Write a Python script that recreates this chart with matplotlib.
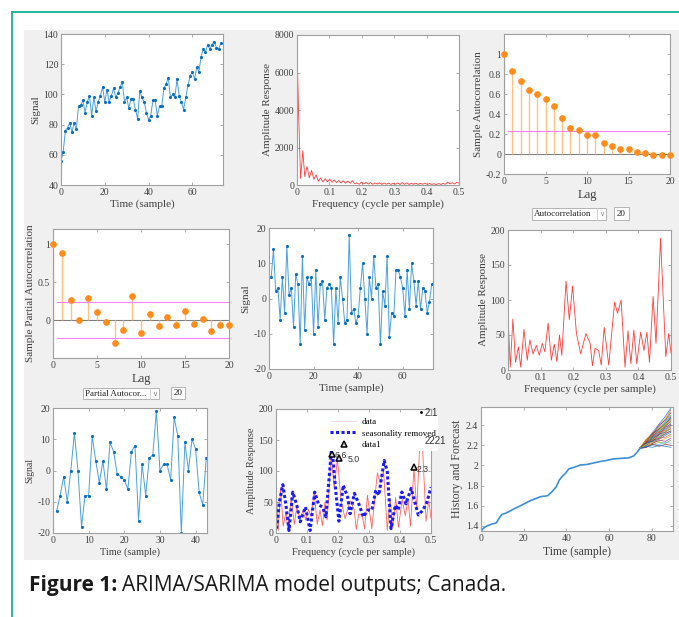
import matplotlib
matplotlib.use("Agg")
import matplotlib.pyplot as plt
from matplotlib.patches import Rectangle
from matplotlib.lines import Line2D
from matplotlib.ticker import FuncFormatter

W, H = 679, 617
plt.rcParams['font.family'] = ['Liberation Serif', 'DejaVu Serif']
plt.rcParams['font.size'] = 7

# ---- data ----
signal = [56, 62, 76, 78, 81, 75, 81, 77, 92, 93, 96, 88, 95, 99, 86, 98, 89, 95, 99, 105,
          95, 103, 95, 99, 104, 98, 101, 105, 108, 95, 98, 91, 97, 97, 90, 84, 102, 98, 95, 88,
          83, 86, 96, 96, 86, 92, 92, 104, 107, 111, 98, 100, 98, 110, 99, 95, 90, 98, 106, 112,
          115, 110, 118, 115, 125, 130, 128, 133, 130, 133, 135, 131, 130, 134]

diff_signal = [6, 14, 2, 3, -6, 6, -4, 15, 1, 3, -8, 7, 4, -13, 12, -9, 6, 4, 6, -10,
               8, -8, 4, 5, -6, 3, 4, 3, -13, 3, -7, 6, 0, -7, -6, 18, -4, -3, -7, -5,
               3, 10, 0, -10, 6, 0, 12, 3, 4, -13, 2, -2, 12, -11, -4, -5, 8, 8, 6, 3,
               -5, 8, -3, 10, 5, -2, 5, -3, 3, 2, -4, -1, 4]

seas_signal = [-13, -8, -2, -10, 0, 12, 0, -18, -8, -8, 11, 3, -4, 3, -6, 9, 6, -1, -2, -3,
               -6, 6, 8, -16, 2, -8, 4, 5, 19, 0, 2, 2, -3, 17, 11, -20, 9, 0, 10, 7,
               -7, -11, 4]

lags = list(range(21))
acf = [1, 0.83, 0.73, 0.64, 0.60, 0.55, 0.48, 0.36, 0.26, 0.24, 0.19, 0.19, 0.11, 0.08,
       0.05, 0.05, 0.02, 0.01, -0.01, -0.01, -0.01]
acf_bound = 0.23
pacf = [1, 0.88, 0.27, 0.0, 0.29, 0.10, -0.03, -0.30, -0.13, 0.32, -0.17, 0.08, -0.08,
        0.04, -0.06, 0.12, -0.05, 0.02, -0.14, -0.06, -0.07]
pacf_bound = 0.235

spec1_f = [0, 0.005, 0.011, 0.018, 0.024, 0.031, 0.038, 0.045, 0.052, 0.059, 0.066, 0.073,
           0.080, 0.087, 0.094, 0.101, 0.108, 0.115, 0.122, 0.129, 0.136, 0.143, 0.150,
           0.157, 0.164, 0.171, 0.178, 0.185, 0.192, 0.199, 0.206, 0.213, 0.220, 0.227,
           0.234, 0.241, 0.248, 0.255, 0.262, 0.269, 0.276, 0.283, 0.290, 0.297, 0.304,
           0.311, 0.318, 0.325, 0.332, 0.339, 0.346, 0.353, 0.360, 0.367, 0.374, 0.381,
           0.388, 0.395, 0.402, 0.409, 0.416, 0.423, 0.430, 0.437, 0.444, 0.451, 0.458,
           0.465, 0.472, 0.479, 0.486, 0.493, 0.500]
spec1_a = [7400, 3800, 350, 1820, 450, 980, 380, 780, 300, 540, 200, 380, 170, 340, 160, 320,
           140, 270, 130, 240, 110, 220, 100, 210, 90, 230, 70, 110, 40, 150, 60, 140, 50,
           130, 40, 110, 50, 120, 30, 110, 40, 100, 30, 90, 40, 110, 30, 120, 40, 110, 30,
           90, 40, 100, 30, 90, 40, 100, 30, 80, 30, 70, 20, 80, 30, 90, 40, 160, 60, 120,
           50, 140, 100]

spec2_f = [0, 0.007, 0.015, 0.023, 0.032, 0.039, 0.049, 0.059, 0.067, 0.077, 0.087, 0.096,
           0.105, 0.113, 0.123, 0.133, 0.142, 0.150, 0.158, 0.165, 0.178, 0.188, 0.198,
           0.210, 0.223, 0.239, 0.252, 0.259, 0.267, 0.278, 0.286, 0.295, 0.309, 0.327,
           0.336, 0.347, 0.359, 0.368, 0.377, 0.386, 0.395, 0.407, 0.417, 0.426, 0.434,
           0.445, 0.454, 0.468, 0.484, 0.493, 0.500]
spec2_a = [78, 4, 73, 11, 33, 4, 58, 14, 43, 23, 35, 21, 38, 26, 67, 14, 37, 12, 50, 21,
           127, 72, 120, 52, 23, 52, 38, 6, 31, 28, 7, 61, 7, 97, 81, 100, 4, 56, 9, 57,
           9, 54, 28, 54, 11, 105, 38, 188, 19, 52, 24]

desea_f = [0.002, 0.011, 0.022, 0.032, 0.042, 0.054, 0.067, 0.078, 0.095, 0.110, 0.125,
           0.138, 0.150, 0.161, 0.180, 0.194, 0.203, 0.217, 0.231, 0.239, 0.253, 0.267,
           0.282, 0.296, 0.309, 0.322, 0.332, 0.349, 0.359, 0.371, 0.385, 0.394, 0.406,
           0.419, 0.436, 0.445, 0.459, 0.474, 0.487, 0.500]
desea_a = [7, 50, 78, 45, 4, 66, 45, 18, 42, 4, 66, 45, 42, 26, 141, 61, 19, 77, 58, 31,
           64, 47, 26, 37, 37, 69, 61, 117, 99, 7, 45, 37, 66, 47, 72, 55, 29, 37, 50, 74]

peak_f = [0.181, 0.203, 0.445]
peak_a = [128, 121, 106]
peak_lbl = ['6.6', '5.0', '2.3']
peak_dx = [0.007, 0.027, 0.009]

hist_t = [0, 1.25, 2.8, 5.2, 7.2, 8.3, 9.8, 11.4, 13.75, 16, 18.4, 20.8, 23, 25.5, 27.8,
          31.2, 33.3, 35.3, 36.7, 38, 39.5, 41.1, 43.4, 46.6, 49.7, 52.8, 56, 59, 62, 65.3,
          69.2, 71.6, 73.1, 74.5]
hist_v = [1.35, 1.38, 1.40, 1.42, 1.43, 1.47, 1.515, 1.525, 1.55, 1.575, 1.60, 1.625,
          1.65, 1.67, 1.69, 1.70, 1.74, 1.79, 1.855, 1.89, 1.92, 1.965, 1.98, 2.005, 2.01,
          2.025, 2.04, 2.05, 2.065, 2.07, 2.075, 2.095, 2.13, 2.17]

fc_t = [74.5, 77.5, 80.5, 83.5, 86.5, 89]
fc_paths = [
    [2.17, 2.25, 2.33, 2.41, 2.49, 2.57], [2.17, 2.24, 2.30, 2.39, 2.46, 2.55],
    [2.17, 2.26, 2.32, 2.38, 2.47, 2.53], [2.17, 2.23, 2.31, 2.40, 2.45, 2.52],
    [2.17, 2.25, 2.29, 2.37, 2.44, 2.50], [2.17, 2.22, 2.30, 2.35, 2.43, 2.49],
    [2.17, 2.24, 2.32, 2.36, 2.41, 2.48], [2.17, 2.21, 2.28, 2.36, 2.42, 2.47],
    [2.17, 2.26, 2.30, 2.34, 2.40, 2.46], [2.17, 2.23, 2.27, 2.35, 2.41, 2.45],
    [2.17, 2.22, 2.29, 2.33, 2.39, 2.44], [2.17, 2.25, 2.28, 2.32, 2.40, 2.43],
    [2.17, 2.20, 2.27, 2.34, 2.37, 2.42], [2.17, 2.23, 2.26, 2.31, 2.38, 2.41],
    [2.17, 2.21, 2.28, 2.30, 2.36, 2.40], [2.17, 2.24, 2.26, 2.33, 2.35, 2.39],
    [2.17, 2.20, 2.25, 2.29, 2.34, 2.38], [2.17, 2.22, 2.24, 2.31, 2.33, 2.37],
    [2.17, 2.19, 2.26, 2.28, 2.34, 2.36], [2.17, 2.21, 2.23, 2.29, 2.31, 2.35],
    [2.17, 2.20, 2.25, 2.27, 2.32, 2.34], [2.17, 2.22, 2.24, 2.26, 2.30, 2.33],
    [2.17, 2.19, 2.22, 2.27, 2.28, 2.31], [2.17, 2.21, 2.23, 2.24, 2.27, 2.29],
    [2.17, 2.18, 2.22, 2.25, 2.24, 2.27], [2.17, 2.20, 2.21, 2.23, 2.22, 2.25],
    [2.17, 2.19, 2.20, 2.21, 2.23, 2.22], [2.17, 2.18, 2.21, 2.19, 2.21, 2.20],
    [2.17, 2.19, 2.18, 2.20, 2.19, 2.18],
]
matlab_colors = ['#0072BD', '#D95319', '#EDB120', '#7E2F8E', '#77AC30', '#4DBEEE', '#A2142F']

LINE = '#4c9fe0'
DOT = '#0b6fc0'
RED = '#ff3b3b'
ORANGE = '#ff8c1a'
STEM = '#ffc080'
MAGENTA = '#ff80ff'
TXT = '#404040'

fig = plt.figure(figsize=(W / 100, H / 100), dpi=100)
fig.patch.set_facecolor('white')


def rect(x0, y0, x1, y1):
    return [x0 / W, 1 - y1 / H, (x1 - x0) / W, (y1 - y0) / H]


def style(ax, xl, yl, xs=8, ys=8):
    for s in ax.spines.values():
        s.set_color('#a0a0a0')
        s.set_linewidth(0.8)
    ax.tick_params(direction='in', top=True, right=True, length=2.5, width=0.6,
                   color='#a0a0a0', labelcolor=TXT, labelsize=7, pad=2)
    ax.set_xlabel(xl, fontsize=xs, color=TXT, labelpad=2)
    ax.set_ylabel(yl, fontsize=ys, color=TXT, labelpad=2)
    ax.xaxis.set_major_formatter(FuncFormatter(lambda v, p: '%g' % round(v, 6)))
    ax.yaxis.set_major_formatter(FuncFormatter(lambda v, p: '%g' % round(v, 6)))


# background
fig.patches.append(Rectangle((24 / W, 1 - 560 / H), (W - 24) / W, 530 / H,
                             transform=fig.transFigure, facecolor='#f0f0f0',
                             edgecolor='none', zorder=-5))
fig.lines.append(Line2D([12 / W, 1], [1 - 12 / H, 1 - 12 / H], transform=fig.transFigure,
                        color='#22b89a', lw=1.4, zorder=-4))
fig.lines.append(Line2D([12 / W, 12 / W], [0, 1 - 12 / H], transform=fig.transFigure,
                        color='#22b89a', lw=1.4, zorder=-4))

# 1: signal
ax = fig.add_axes(rect(61, 34, 223, 185))
ax.plot(range(len(signal)), signal, color=LINE, lw=0.7, marker='.', ms=2.5, mfc=DOT, mec=DOT)
ax.set_xlim(0, 74)
ax.set_ylim(40, 140)
ax.set_xticks([0, 20, 40, 60])
ax.set_yticks(range(40, 141, 20))
style(ax, 'Time (sample)', 'Signal')

# 2: spectrum of signal
ax = fig.add_axes(rect(297, 35, 459, 185))
ax.plot(spec1_f, spec1_a, color=RED, lw=0.6)
ax.set_xlim(0, 0.5)
ax.set_ylim(0, 8000)
ax.set_xticks([0, 0.1, 0.2, 0.3, 0.4, 0.5])
ax.set_yticks(range(0, 8001, 2000))
style(ax, 'Frequency (cycle per sample)', 'Amplitude Response')

# 3: ACF
ax = fig.add_axes(rect(504, 34, 670, 174))
ax.axhline(0, color='#808080', lw=0.8)
ax.vlines(lags, 0, acf, color=STEM, lw=1)
ax.plot(lags, acf, 'o', color=ORANGE, ms=3.8, clip_on=False, zorder=3)
ax.plot([0.5, 20], [acf_bound, acf_bound], color=MAGENTA, lw=0.8)
ax.set_xlim(0, 20)
ax.set_ylim(-0.2, 1.2)
ax.set_xticks([0, 5, 10, 15, 20])
ax.set_yticks([-0.2, 0, 0.2, 0.4, 0.6, 0.8, 1])
style(ax, 'Lag', 'Sample Autocorrelation', xs=9)

# 4: PACF
ax = fig.add_axes(rect(53, 229, 229, 358))
ax.axhline(0, color='#808080', lw=0.8)
ax.vlines(lags, 0, pacf, color=STEM, lw=1)
ax.plot(lags, pacf, 'o', color=ORANGE, ms=3.8, clip_on=False, zorder=3)
ax.plot([0.5, 20], [pacf_bound, pacf_bound], color=MAGENTA, lw=0.8)
ax.plot([0.5, 20], [-pacf_bound, -pacf_bound], color=MAGENTA, lw=0.8)
ax.set_xlim(0, 20)
ax.set_ylim(-0.5, 1.2)
ax.set_xticks([0, 5, 10, 15, 20])
ax.set_yticks([0, 0.5, 1])
style(ax, 'Lag', 'Sample Partial Autocorrelation', xs=9)

# 5: differenced signal
ax = fig.add_axes(rect(269, 228, 433, 369))
ax.plot(range(1, len(diff_signal) + 1), diff_signal, color=LINE, lw=0.7, marker='.', ms=2.5,
        mfc=DOT, mec=DOT)
ax.set_xlim(0, 73.6)
ax.set_ylim(-20, 20)
ax.set_xticks([0, 20, 40, 60])
ax.set_yticks([-20, -10, 0, 10, 20])
style(ax, 'Time (sample)', 'Signal')

# 6: spectrum of differenced signal
ax = fig.add_axes(rect(508, 230, 671, 370))
ax.plot(spec2_f, spec2_a, color=RED, lw=0.6)
ax.set_xlim(0, 0.5)
ax.set_ylim(0, 200)
ax.set_xticks([0, 0.1, 0.2, 0.3, 0.4, 0.5])
ax.set_yticks(range(0, 201, 50))
style(ax, 'Frequency (cycle per sample)', 'Amplitude Response')

# 7: seasonal difference
ax = fig.add_axes(rect(53, 408, 207, 533))
ax.plot(range(1, len(seas_signal) + 1), seas_signal, color=LINE, lw=0.7, marker='.', ms=2.5,
        mfc=DOT, mec=DOT)
ax.set_xlim(0, 43.2)
ax.set_ylim(-20, 20)
ax.set_xticks([0, 10, 20, 30, 40])
ax.set_yticks([-20, -10, 0, 10, 20])
style(ax, 'Time (sample)', 'Signal', xs=7.5, ys=7)

# 8: spectrum with seasonality removed
ax = fig.add_axes(rect(276, 409, 431, 533))
ax.plot(spec2_f, spec2_a, color=RED, lw=0.6, alpha=0.8)
l2, = ax.plot(desea_f, desea_a, color='#1a1aff', lw=2.2, ls=(0, (1, 0.8)))
ax.plot(peak_f, peak_a, '^', ms=5, mfc='#d8d8d8', mec='black', mew=1.1, ls='none', zorder=4)
for f, a, s, dx in zip(peak_f, peak_a, peak_lbl, peak_dx):
    ax.text(f + dx, a - 3, s, fontsize=6.3, family='Liberation Sans', color='#333333',
            va='center', ha='left', zorder=5)
l3 = Line2D([], [], marker='^', ms=5, mfc='#d8d8d8', mec='black', mew=1.1, ls='none')
lh = Line2D([], [], color=RED, lw=0.4, alpha=0.3)
leg = ax.legend([lh, l2, l3], ['data', 'seasonality removed', 'data1'], loc='upper left',
                bbox_to_anchor=(0.31, 0.98), fontsize=6.5, frameon=True, fancybox=False,
                facecolor='white', edgecolor='none', framealpha=1, handlelength=3.0,
                borderpad=0.2, labelspacing=0.35, handletextpad=0.5)
leg.set_zorder(6)
ax.plot([0.469], [195], '.', color='black', ms=2, clip_on=False, zorder=7)
ax.text(0.478, 193, '2.1', fontsize=7, family='Liberation Sans', color='#333333',
        va='center', ha='left', zorder=7, clip_on=False)
ax.text(0.48, 148, '2221', fontsize=7, family='Liberation Sans', color='#333333',
        va='center', ha='left', zorder=7, clip_on=False)
ax.set_xlim(0, 0.5)
ax.set_ylim(0, 200)
ax.set_xticks([0, 0.1, 0.2, 0.3, 0.4, 0.5])
ax.set_yticks(range(0, 201, 50))
style(ax, 'Frequency (cycle per sample)', 'Amplitude Response', xs=7.5, ys=7.5)

# 9: history and forecast
ax = fig.add_axes(rect(481, 407, 673, 531))
for i, p in enumerate(fc_paths):
    ax.plot(fc_t, p, color=matlab_colors[i % len(matlab_colors)], lw=0.6, alpha=0.75)
ax.plot(hist_t, hist_v, color='#3d8fd9', lw=1.2)
ax.set_xlim(0, 90)
ax.set_ylim(1.35, 2.58)
ax.set_xticks([0, 20, 40, 60, 80])
ax.set_yticks([1.4, 1.6, 1.8, 2.0, 2.2, 2.4])
style(ax, 'Time (sample)', 'History and Forecast', xs=8.5, ys=8.5)


# dropdown widgets under the correlation plots
def box(x0, y0, x1, y1):
    fig.patches.append(Rectangle((x0 / W, 1 - y1 / H), (x1 - x0) / W, (y1 - y0) / H,
                                 transform=fig.transFigure, facecolor='white',
                                 edgecolor='#b4b4b4', lw=0.7, zorder=2))


def dropdown(x0, y0, x1, y1, label, num_x0, num_x1):
    box(x0, y0, x1, y1)
    fig.lines.append(Line2D([(x1 - 9) / W, (x1 - 9) / W], [1 - y0 / H, 1 - y1 / H],
                            transform=fig.transFigure, color='#d0d0d0', lw=0.6, zorder=3))
    fig.text((x0 + 2) / W, 1 - (y0 + y1) / 2 / H, label, fontsize=6.5, color='#222222',
             va='center', ha='left')
    fig.text((x1 - 4.5) / W, 1 - (y0 + y1) / 2 / H, '\u2228', fontsize=5, color='#888888',
             va='center', ha='center', family='DejaVu Sans')
    box(num_x0, y0 - 1, num_x1, y1)
    fig.text((num_x0 + num_x1) / 2 / W, 1 - (y0 + y1 - 1) / 2 / H, '20', fontsize=6.5,
             color='#222222', va='center', ha='center')


dropdown(532, 208, 606, 220, 'Autocorrelation', 614, 629)
dropdown(83, 388, 159, 399, 'Partial Autocor...', 171, 185)

# caption
t1 = fig.text(29 / W, 1 - 586 / H, 'Figure 1:', fontsize=15, family='Open Sans',
              weight='bold', color='#1a1a1a', va='center', ha='left')
fig.canvas.draw()
bb = t1.get_window_extent()
fig.text((bb.x1 + 5) / W, 1 - 586 / H, 'ARIMA/SARIMA model outputs; Canada.', fontsize=15,
         family='Open Sans', color='#1a1a1a', va='center', ha='left')

fig.savefig('out.png', dpi=100)
